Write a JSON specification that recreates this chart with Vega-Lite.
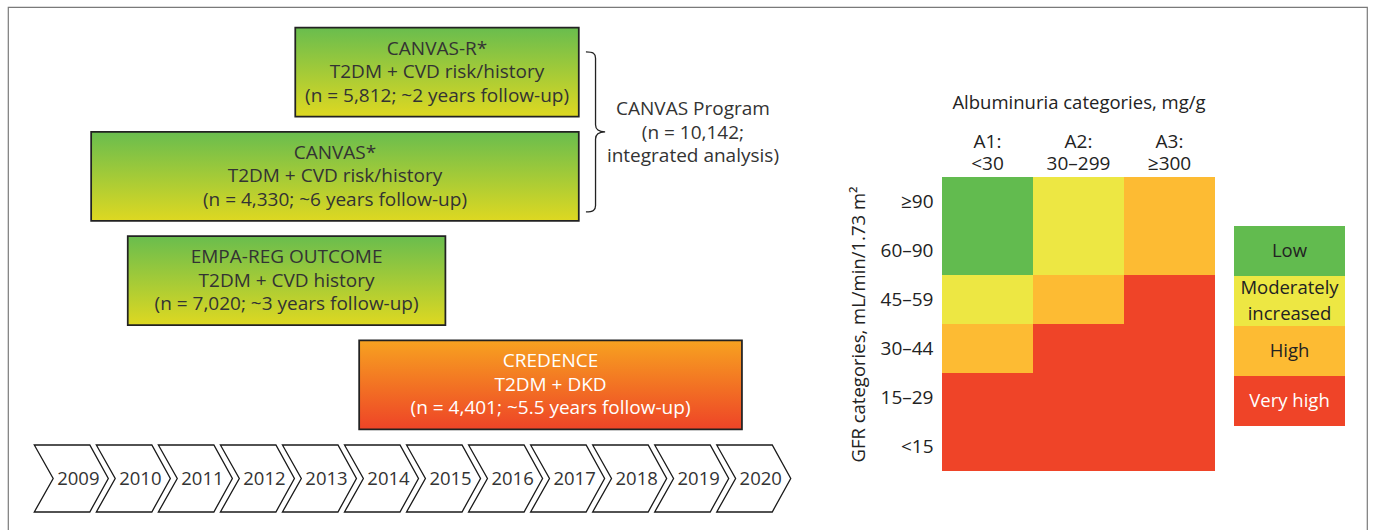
{
  "$schema": "https://vega.github.io/schema/vega-lite/v6.json",
  "width": 1375,
  "height": 530,
  "autosize": {"type": "fit", "contains": "padding"},
  "padding": {"left": 8, "top": 7, "right": 8, "bottom": -4},
  "background": "white",
  "config": {
    "view": {"stroke": "#7a7a7a", "strokeWidth": 1.2},
    "text": {"font": "Open Sans"},
    "axis": {"labelFont": "Open Sans", "titleFont": "Open Sans"}
  },
  "datasets": {
    "trials": [
      {"trial": "CANVAS-R*", "label": "CANVAS-R*\nT2DM + CVD risk/history\n(n = 5,812; ~2 years follow-up)", "start": 2013.11, "end": 2017.68, "population": "CVD"},
      {"trial": "CANVAS*", "label": "CANVAS*\nT2DM + CVD risk/history\n(n = 4,330; ~6 years follow-up)", "start": 2009.82, "end": 2017.68, "population": "CVD"},
      {"trial": "EMPA-REG OUTCOME", "label": "EMPA-REG OUTCOME\nT2DM + CVD history\n(n = 7,020; ~3 years follow-up)", "start": 2010.41, "end": 2015.53, "population": "CVD"},
      {"trial": "CREDENCE", "label": "CREDENCE\nT2DM + DKD\n(n = 4,401; ~5.5 years follow-up)", "start": 2014.14, "end": 2020.31, "population": "DKD"}
    ],
    "program": [
      {"program": "CANVAS Program", "label": "CANVAS Program\n(n = 10,142;\nintegrated analysis)", "trial": "CANVAS*", "braceYear": 2017.95, "labelYear": 2019.52}
    ],
    "years": [
      {"year": 2009, "row": "timeline"}, {"year": 2010, "row": "timeline"}, {"year": 2011, "row": "timeline"},
      {"year": 2012, "row": "timeline"}, {"year": 2013, "row": "timeline"}, {"year": 2014, "row": "timeline"},
      {"year": 2015, "row": "timeline"}, {"year": 2016, "row": "timeline"}, {"year": 2017, "row": "timeline"},
      {"year": 2018, "row": "timeline"}, {"year": 2019, "row": "timeline"}, {"year": 2020, "row": "timeline"}
    ],
    "kdigo": [
      {"gfr": "≥90", "albuminuria": "A1: <30", "risk": "Low"},
      {"gfr": "≥90", "albuminuria": "A2: 30–299", "risk": "Moderately increased"},
      {"gfr": "≥90", "albuminuria": "A3: ≥300", "risk": "High"},
      {"gfr": "60–90", "albuminuria": "A1: <30", "risk": "Low"},
      {"gfr": "60–90", "albuminuria": "A2: 30–299", "risk": "Moderately increased"},
      {"gfr": "60–90", "albuminuria": "A3: ≥300", "risk": "High"},
      {"gfr": "45–59", "albuminuria": "A1: <30", "risk": "Moderately increased"},
      {"gfr": "45–59", "albuminuria": "A2: 30–299", "risk": "High"},
      {"gfr": "45–59", "albuminuria": "A3: ≥300", "risk": "Very high"},
      {"gfr": "30–44", "albuminuria": "A1: <30", "risk": "High"},
      {"gfr": "30–44", "albuminuria": "A2: 30–299", "risk": "Very high"},
      {"gfr": "30–44", "albuminuria": "A3: ≥300", "risk": "Very high"},
      {"gfr": "15–29", "albuminuria": "A1: <30", "risk": "Very high"},
      {"gfr": "15–29", "albuminuria": "A2: 30–299", "risk": "Very high"},
      {"gfr": "15–29", "albuminuria": "A3: ≥300", "risk": "Very high"},
      {"gfr": "<15", "albuminuria": "A1: <30", "risk": "Very high"},
      {"gfr": "<15", "albuminuria": "A2: 30–299", "risk": "Very high"},
      {"gfr": "<15", "albuminuria": "A3: ≥300", "risk": "Very high"}
    ],
    "risk": [
      {"risk": "Low", "label": "Low", "panel": "KDIGO risk"},
      {"risk": "Moderately increased", "label": "Moderately\nincreased", "panel": "KDIGO risk"},
      {"risk": "High", "label": "High", "panel": "KDIGO risk"},
      {"risk": "Very high", "label": "Very high", "panel": "KDIGO risk"}
    ]
  },
  "resolve": {"scale": {"x": "independent", "y": "independent", "color": "independent"}},
  "layer": [
    {
      "layer": [
        {
          "data": {"name": "trials"},
          "transform": [{"filter": "datum.population === 'CVD'"}],
          "mark": {
            "type": "rect",
            "fill": {"gradient": "linear", "x1": 0, "y1": 0, "x2": 0, "y2": 1,
              "stops": [{"offset": 0, "color": "#69bd4e"}, {"offset": 1, "color": "#ded821"}]},
            "stroke": "#222222",
            "strokeWidth": 1.75
          },
          "encoding": {
            "x": {"field": "start", "type": "quantitative", "scale": {"domain": [2009, 2021], "range": [32.28, 776.76], "nice": false, "zero": false}, "axis": null},
            "x2": {"field": "end"},
            "y": {"field": "trial", "type": "nominal", "scale": {"type": "band", "domain": ["CANVAS-R*", "CANVAS*", "EMPA-REG OUTCOME", "CREDENCE"], "range": [20.6, 422.3], "paddingInner": 0.146, "paddingOuter": 0}, "axis": null}
          }
        },
        {
          "data": {"name": "trials"},
          "transform": [{"filter": "datum.population === 'DKD'"}],
          "mark": {
            "type": "rect",
            "fill": {"gradient": "linear", "x1": 0, "y1": 0, "x2": 0, "y2": 1,
              "stops": [{"offset": 0, "color": "#f7a220"}, {"offset": 1, "color": "#ee4427"}]},
            "stroke": "#222222",
            "strokeWidth": 1.75
          },
          "encoding": {
            "x": {"field": "start", "type": "quantitative", "axis": null},
            "x2": {"field": "end"},
            "y": {"field": "trial", "type": "nominal", "axis": null}
          }
        },
        {
          "data": {"name": "trials"},
          "transform": [
            {"fold": ["start", "end"], "as": ["edge", "year"]},
            {"aggregate": [{"op": "mean", "field": "year", "as": "mid"}], "groupby": ["trial", "label", "population"]}
          ],
          "mark": {"type": "text", "fontSize": 19, "lineBreak": "\n", "lineHeight": 23.5, "dy": -23.5, "align": "center", "baseline": "middle"},
          "encoding": {
            "x": {"field": "mid", "type": "quantitative", "axis": null},
            "y": {"field": "trial", "type": "nominal", "axis": null},
            "text": {"field": "label"},
            "color": {"condition": {"test": "datum.population === 'DKD'", "value": "#ffffff"}, "value": "#333333"}
          }
        },
        {
          "data": {"name": "program"},
          "mark": {
            "type": "point",
            "shape": "M-0.12,-1C-0.03,-1 0,-0.98 0,-0.92L0,-0.09C0,-0.03 0.04,0 0.12,0C0.04,0 0,0.03 0,0.09L0,0.92C0,0.98 -0.03,1 -0.12,1",
            "size": 25600,
            "filled": false,
            "stroke": "#222222",
            "strokeWidth": 1.3,
            "opacity": 1
          },
          "encoding": {
            "x": {"field": "braceYear", "type": "quantitative", "axis": null},
            "y": {"field": "trial", "type": "nominal", "bandPosition": 0, "axis": null}
          }
        },
        {
          "data": {"name": "program"},
          "mark": {"type": "text", "fontSize": 19, "lineBreak": "\n", "lineHeight": 23.5, "dy": -22.5, "align": "center", "baseline": "middle", "color": "#333333"},
          "encoding": {
            "x": {"field": "labelYear", "type": "quantitative", "axis": null},
            "y": {"field": "trial", "type": "nominal", "bandPosition": 0, "axis": null},
            "text": {"field": "label"}
          }
        }
      ]
    },
    {
      "data": {"name": "years"},
      "layer": [
        {
          "mark": {
            "type": "point",
            "shape": "M-1,-0.905L0.5,-0.905L1,0L0.5,0.905L-1,0.905L-0.49,0Z",
            "size": 5476,
            "filled": true,
            "fill": "#ffffff",
            "stroke": "#1a1a1a",
            "strokeWidth": 1.3,
            "opacity": 1
          },
          "encoding": {
            "x": {"field": "year", "type": "ordinal", "scale": {"type": "band", "range": [32.28, 776.76], "paddingInner": 0, "paddingOuter": 0}, "axis": null},
            "y": {"field": "row", "type": "nominal", "scale": {"type": "band", "range": [438, 505], "paddingInner": 0, "paddingOuter": 0}, "axis": null}
          }
        },
        {
          "mark": {"type": "text", "fontSize": 18.5, "dx": 7, "align": "center", "baseline": "middle", "color": "#333333"},
          "encoding": {
            "x": {"field": "year", "type": "ordinal", "axis": null},
            "y": {"field": "row", "type": "nominal", "axis": null},
            "text": {"field": "year", "type": "nominal"}
          }
        }
      ]
    },
    {
      "data": {"name": "kdigo"},
      "mark": {"type": "rect"},
      "encoding": {
        "x": {
          "field": "albuminuria", "type": "nominal",
          "scale": {"type": "band", "domain": ["A1: <30", "A2: 30–299", "A3: ≥300"], "range": [934, 1207], "paddingInner": 0, "paddingOuter": 0},
          "axis": {
            "orient": "top", "offset": -170, "title": "Albuminuria categories, mg/g",
            "labelExpr": "split(datum.label, ' ')", "labelAngle": 0, "ticks": false, "domain": false,
            "labelFontSize": 19, "labelLineHeight": 22, "labelPadding": 26, "labelColor": "#222222",
            "titleFontSize": 18.5, "titleFontWeight": "normal", "titleColor": "#222222", "titlePadding": 20
          }
        },
        "y": {
          "field": "gfr", "type": "nominal",
          "scale": {"type": "band", "domain": ["≥90", "60–90", "45–59", "30–44", "15–29", "<15"], "range": [170, 464], "paddingInner": 0, "paddingOuter": 0},
          "axis": {
            "orient": "left", "offset": -934, "title": "GFR categories, mL/min/1.73 m²",
            "ticks": false, "domain": false,
            "labelFontSize": 19, "labelPadding": 9, "labelColor": "#222222",
            "titleFontSize": 18.5, "titleFontWeight": "normal", "titleColor": "#222222", "titlePadding": 12
          }
        },
        "color": {
          "field": "risk", "type": "nominal",
          "scale": {"domain": ["Low", "Moderately increased", "High", "Very high"], "range": ["#62bb4f", "#ede743", "#fdbb33", "#ef4428"]},
          "legend": null
        }
      }
    },
    {
      "data": {"name": "risk"},
      "layer": [
        {
          "mark": {"type": "rect"},
          "encoding": {
            "x": {"field": "panel", "type": "nominal", "scale": {"type": "band", "range": [1226, 1337], "paddingInner": 0, "paddingOuter": 0}, "axis": null},
            "y": {"field": "risk", "type": "nominal", "scale": {"type": "band", "domain": ["Low", "Moderately increased", "High", "Very high"], "range": [219, 419], "paddingInner": 0, "paddingOuter": 0}, "axis": null},
            "color": {
              "field": "risk", "type": "nominal",
              "scale": {"domain": ["Low", "Moderately increased", "High", "Very high"], "range": ["#62bb4f", "#ede743", "#fdbb33", "#ef4428"]},
              "legend": null
            }
          }
        },
        {
          "transform": [{"filter": "datum.risk !== 'Moderately increased'"}],
          "mark": {"type": "text", "fontSize": 18.5, "align": "center", "baseline": "middle"},
          "encoding": {
            "x": {"field": "panel", "type": "nominal", "axis": null},
            "y": {"field": "risk", "type": "nominal", "axis": null},
            "text": {"field": "label"},
            "color": {"condition": {"test": "datum.risk === 'Very high'", "value": "#ffffff"}, "value": "#222222"}
          }
        },
        {
          "transform": [{"filter": "datum.risk === 'Moderately increased'"}],
          "mark": {"type": "text", "fontSize": 18.5, "lineBreak": "\n", "lineHeight": 26, "dy": -13, "align": "center", "baseline": "middle", "color": "#222222"},
          "encoding": {
            "x": {"field": "panel", "type": "nominal", "axis": null},
            "y": {"field": "risk", "type": "nominal", "axis": null},
            "text": {"field": "label"}
          }
        }
      ]
    }
  ]
}
